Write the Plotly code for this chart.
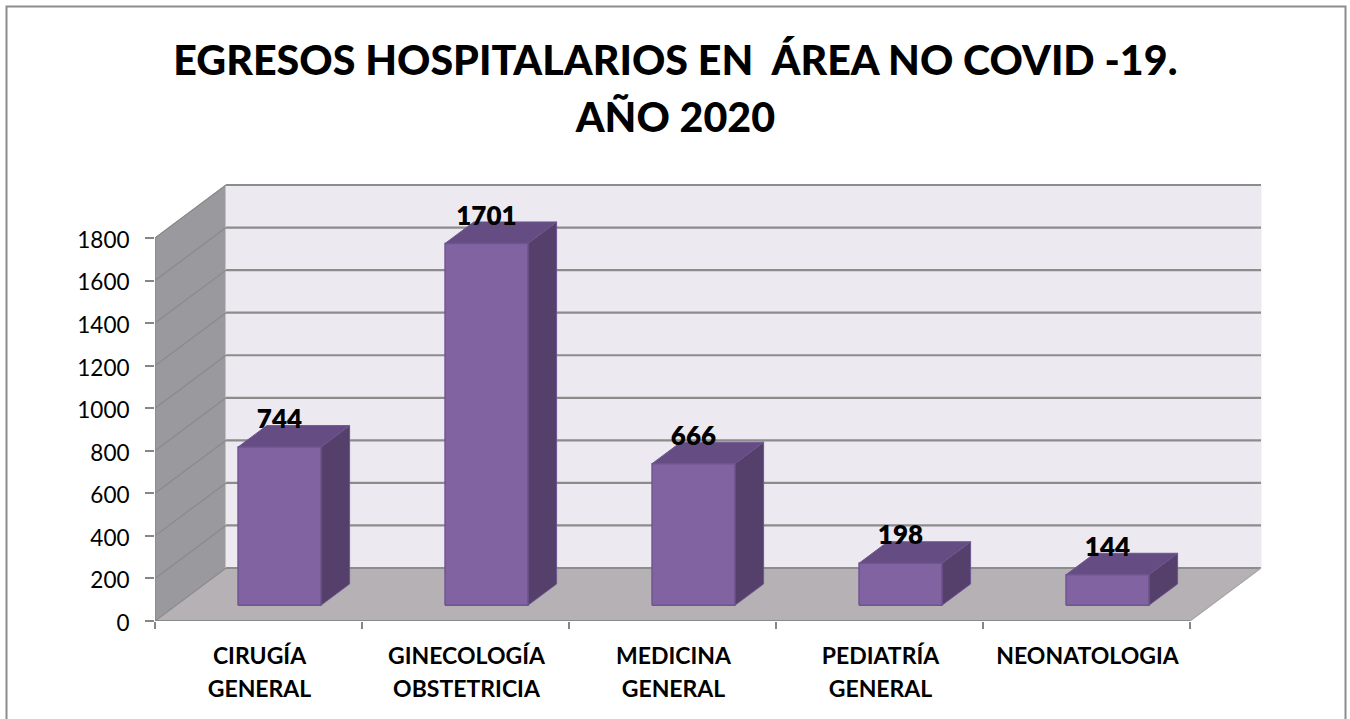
import plotly.graph_objects as go

# ---- data ----
title_lines = ["EGRESOS HOSPITALARIOS EN\u00a0\u00a0ÁREA NO COVID -19.", "AÑO 2020"]
category_lines = [["CIRUGÍA", "GENERAL"], ["GINECOLOGÍA", "OBSTETRICIA"], ["MEDICINA", "GENERAL"],
                  ["PEDIATRÍA", "GENERAL"], ["NEONATOLOGIA"]]
values = [744, 1701, 666, 198, 144]
y_ticks = [0, 200, 400, 600, 800, 1000, 1200, 1400, 1600, 1800]

# ---- style / oblique projection settings ----
W, H = 1350, 719
FONT = "Lato"
DEPTH_X = 0.343    # category units shifted by full chart depth
DEPTH_Y = 249.0    # value units shifted by full chart depth
BAR_W = 0.40
BAR_D0, BAR_D1 = 0.295, 0.70
LABEL_LIFT = 119
GRID = "#8c8c8c"
WALL, BACK, FLOOR = "#9a999e", "#ece9f1", "#b5b1b5"
FRONT, SIDE, TOP, EDGE = "#8263a2", "#54406a", "#654c82", "#6e5590"
n = len(values)
y_top = y_ticks[-1]


def P(x, y, d):
    return x + d * DEPTH_X, y + d * DEPTH_Y


def poly(points, fill, line=None, width=1):
    xs = [p[0] for p in points] + [points[0][0]]
    ys = [p[1] for p in points] + [points[0][1]]
    return go.Scatter(x=xs, y=ys, mode="lines", fill="toself", fillcolor=fill,
                      line=dict(color=line or fill, width=width), hoverinfo="skip",
                      showlegend=False, cliponaxis=False)


def seg(points, color=GRID, width=2):
    return go.Scatter(x=[p[0] for p in points], y=[p[1] for p in points], mode="lines",
                      line=dict(color=color, width=width), hoverinfo="skip",
                      showlegend=False, cliponaxis=False)


fig = go.Figure()
# walls and floor
fig.add_trace(poly([P(0, 0, 0), P(0, 0, 1), P(0, y_top, 1), P(0, y_top, 0)], WALL))
fig.add_trace(poly([P(0, 0, 1), P(n, 0, 1), P(n, y_top, 1), P(0, y_top, 1)], BACK))
fig.add_trace(poly([P(0, 0, 0), P(0, 0, 1), P(n, 0, 1), P(n, 0, 0)], FLOOR))
# gridlines
for t in y_ticks:
    fig.add_trace(seg([P(0, t, 0), P(0, t, 1)], "#8a8a8a", 1.2))
    fig.add_trace(seg([P(0, t, 1), P(n, t, 1)], GRID, 2.2))
fig.add_trace(seg([P(n, 0, 1), P(n, 0, 0)], "#a8a8a8", 1.2))
# axis lines
fig.add_trace(seg([P(0, 0, 0), P(n, 0, 0)], "#8a8a8a", 2))
fig.add_trace(seg([P(0, 0, 0), P(0, y_top, 0)], "#8a8a8a", 1.5))

# bars
for i, v in enumerate(values):
    x0, x1 = i + 0.5 - BAR_W / 2, i + 0.5 + BAR_W / 2
    fig.add_trace(poly([P(x1, 0, BAR_D0), P(x1, 0, BAR_D1), P(x1, v, BAR_D1), P(x1, v, BAR_D0)], SIDE, EDGE, 1))
    fig.add_trace(poly([P(x0, v, BAR_D0), P(x1, v, BAR_D0), P(x1, v, BAR_D1), P(x0, v, BAR_D1)], TOP, EDGE, 1))
    fig.add_trace(poly([P(x0, 0, BAR_D0), P(x1, 0, BAR_D0), P(x1, v, BAR_D0), P(x0, v, BAR_D0)], FRONT, EDGE, 1.5))

# value labels
label_pts = [P(i + 0.5, v + LABEL_LIFT, BAR_D0) for i, v in enumerate(values)]
fig.add_trace(go.Scatter(x=[p[0] for p in label_pts], y=[p[1] for p in label_pts],
                         mode="text", text=[str(v) for v in values], textposition="middle center",
                         textfont=dict(family=FONT, size=26, color="#000000", weight=800),
                         hoverinfo="skip", showlegend=False, cliponaxis=False))

tick_text = ["<br>".join(f'<span style="font-size:23px">{ln}</span>' for ln in lines)
             for lines in category_lines]
title_text = "<br>".join(f'<span style="font-size:41.2px">{ln}</span>' for ln in title_lines)

fig.update_layout(
    width=W, height=H, autosize=False,
    margin=dict(l=0, r=0, t=0, b=0, autoexpand=False),
    paper_bgcolor="#ffffff", plot_bgcolor="rgba(0,0,0,0)",
    showlegend=False,
    title=dict(text=title_text, x=0.5003, xanchor="center", y=1 - 75 / H, yanchor="top",
               font=dict(family=FONT, size=44, color="#000000", weight=900)),
    xaxis=dict(domain=[155 / W, 1262 / W], range=[0, (1262 - 155) / 207.0],
               tickmode="array", tickvals=[i + 0.5 for i in range(n)], ticktext=tick_text,
               ticks="", tickangle=0, showgrid=False, zeroline=False, showline=False,
               tickfont=dict(family=FONT, size=25.4, color="#000000", weight="bold"),
               ticklabelstandoff=17, ticklabelshift=1,
               minor=dict(tickmode="array", tickvals=list(range(n + 1)), ticks="outside", ticklen=7,
                          tickwidth=2, tickcolor="#868686", showgrid=False)),
    yaxis=dict(domain=[1 - 621 / H, 1 - 184 / H], range=[0, (621 - 184) / 383.0 * y_top],
               tickmode="array", tickvals=y_ticks, ticks="outside", ticklen=9, tickwidth=2,
               tickcolor="#868686", showgrid=False, zeroline=False, showline=False,
               ticklabelstandoff=11, ticklabelshift=2,
               tickfont=dict(family=FONT, size=22.5, color="#000000")),
    shapes=[dict(type="rect", xref="paper", yref="paper", x0=6.5 / W, x1=1345.5 / W,
                 y0=-0.01, y1=1 - 6.5 / H, line=dict(color="#8c8c8c", width=2),
                 fillcolor="rgba(0,0,0,0)", layer="below")],
)

fig.write_html("out.html", config=dict(displayModeBar=False),
               post_script="document.body.style.margin='0';document.body.style.overflow='hidden';")
